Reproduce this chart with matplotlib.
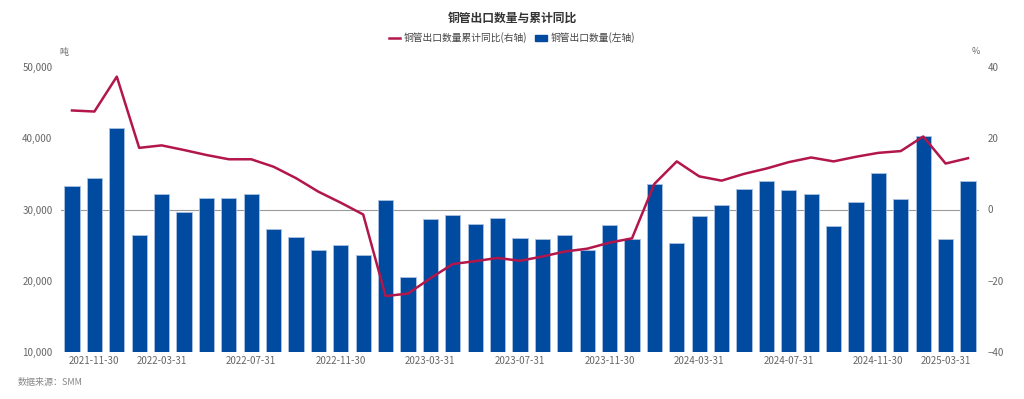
import matplotlib
matplotlib.use("Agg")
import matplotlib.pyplot as plt
from matplotlib.lines import Line2D
from matplotlib.patches import Patch

plt.rcParams['font.family'] = ['Noto Sans CJK SC', 'DejaVu Sans']

# Month labels (Jan/Feb merged in 2022 and 2025)
dates = ["2021-10-31", "2021-11-30", "2021-12-31", "2022-02-28", "2022-03-31",
         "2022-04-30", "2022-05-31", "2022-06-30", "2022-07-31", "2022-08-31",
         "2022-09-30", "2022-10-31", "2022-11-30", "2022-12-31", "2023-01-31",
         "2023-02-28", "2023-03-31", "2023-04-30", "2023-05-31", "2023-06-30",
         "2023-07-31", "2023-08-31", "2023-09-30", "2023-10-31", "2023-11-30",
         "2023-12-31", "2024-01-31", "2024-02-29", "2024-03-31", "2024-04-30",
         "2024-05-31", "2024-06-30", "2024-07-31", "2024-08-31", "2024-09-30",
         "2024-10-31", "2024-11-30", "2024-12-31", "2025-02-28", "2025-03-31",
         "2025-04-30"]

# export volume, tonnes (left axis)
volume = [33350, 34380, 41480, 26380, 32130, 29650, 31610, 31610, 32220, 27260,
          26190, 24360, 25080, 23610, 31290, 20480, 28620, 29270, 28010, 28850,
          26040, 25900, 26380, 24320, 27870, 25810, 33530, 25250, 29130, 30630,
          32830, 34000, 32740, 32220, 27730, 31050, 35170, 31430, 40360, 25860,
          34040]

# cumulative year-on-year change, % (right axis)
yoy = [27.8, 27.5, 37.3, 17.3, 18.0, 16.7, 15.3, 14.1, 14.1, 12.0,
       8.8, 5.0, 1.9, -1.4, -24.3, -23.6, -19.3, -15.3, -14.5, -13.6,
       -14.4, -13.2, -11.8, -11.0, -9.3, -8.1, 7.2, 13.5, 9.3, 8.1,
       10.0, 11.5, 13.3, 14.6, 13.5, 14.8, 15.9, 16.4, 20.5, 12.9,
       14.4]

shown_ticks = ["2021-11-30", "2022-03-31", "2022-07-31", "2022-11-30", "2023-03-31",
               "2023-07-31", "2023-11-30", "2024-03-31", "2024-07-31", "2024-11-30",
               "2025-03-31"]

bar_color = "#004b9f"
line_color = "#b3164a"
text_gray = "#666666"

fig = plt.figure(figsize=(10.24, 3.99), dpi=100)
ax = fig.add_axes([60.8 / 1024, 1 - 352 / 399, 918.4 / 1024, 285 / 399])
ax2 = ax.twinx()

x = list(range(len(dates)))
ax.bar(x, volume, width=0.68, color=bar_color, edgecolor="#a9c2e0", linewidth=0.6, zorder=2)
ax.axhline(30000, color="#9a9a9a", linewidth=0.8, zorder=1)
ax.set_ylim(10000, 50000)
ax.set_yticks([10000, 20000, 30000, 40000, 50000])
ax.set_yticklabels([f"{v:,}" for v in [10000, 20000, 30000, 40000, 50000]])
ax.set_xlim(-0.5, len(dates) - 0.5)

ax2.plot(x, yoy, color=line_color, linewidth=1.8, zorder=3)
ax2.set_ylim(-40, 40)
ax2.set_yticks([-40, -20, 0, 20, 40])

tick_pos = [i for i, d in enumerate(dates) if d in shown_ticks]
ax.set_xticks(tick_pos)
ax.set_xticklabels([dates[i] for i in tick_pos])

for a in (ax, ax2):
    for s in a.spines.values():
        s.set_visible(False)
    a.tick_params(length=0, labelsize=7, labelcolor=text_gray)
ax.tick_params(axis="y", pad=6)
ax2.tick_params(axis="y", pad=6)
ax.tick_params(axis="x", pad=3)

fig.text(0.5, 1 - 18 / 399, "铜管出口数量与累计同比", ha="center", va="center",
         fontsize=8.5, fontweight="bold", color="#333333")
fig.text(64 / 1024, 1 - 52 / 399, "吨", ha="center", va="center", fontsize=6.5, color=text_gray)
fig.text(976 / 1024, 1 - 52 / 399, "%", ha="center", va="center", fontsize=6.5, color=text_gray)
fig.text(18 / 1024, 1 - 383 / 399, "数据来源：SMM", ha="left", va="center", fontsize=6.5, color="#888888")

handles = [Line2D([0], [0], color=line_color, linewidth=1.8),
           Patch(facecolor=bar_color, edgecolor=bar_color)]
fig.legend(handles, ["铜管出口数量累计同比(右轴)", "铜管出口数量(左轴)"],
           loc="center", bbox_to_anchor=(0.5, 1 - 38 / 399), ncol=2, frameon=False,
           fontsize=7, handlelength=1.2, handleheight=0.7, columnspacing=0.8, handletextpad=0.4,
           labelcolor="#444444")

fig.savefig("out.png", dpi=100)
